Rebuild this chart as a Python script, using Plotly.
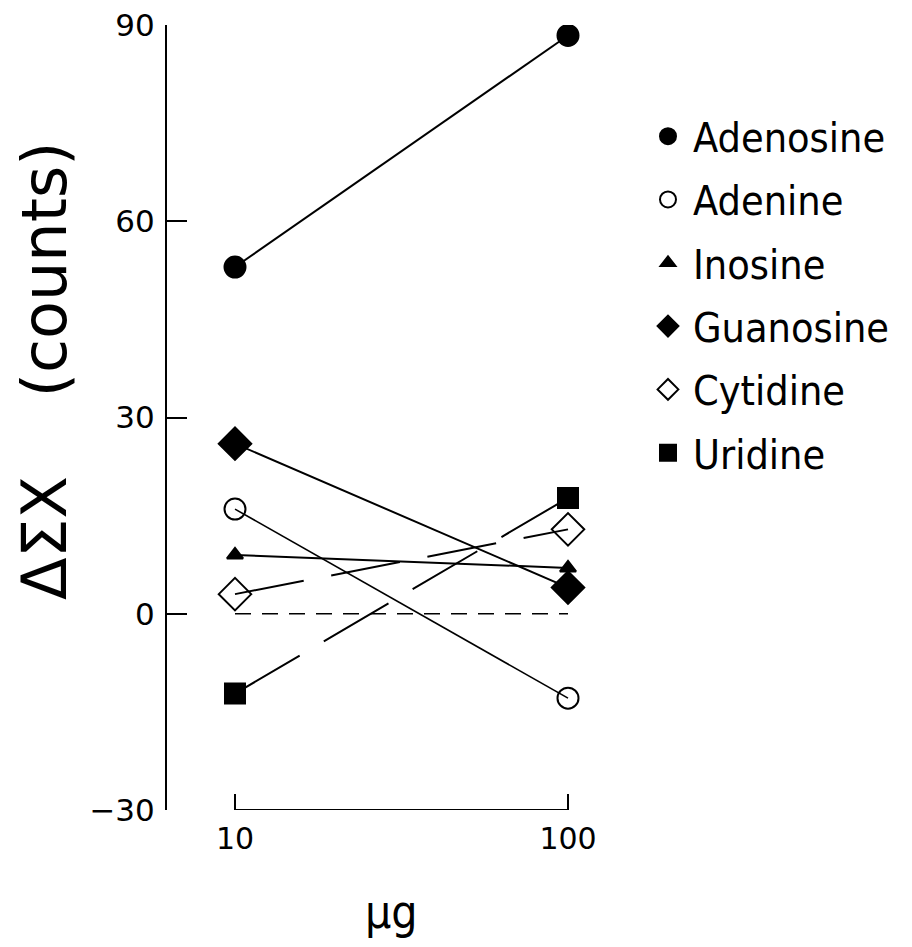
import plotly.graph_objects as go

# ---- data ----
doses = [10, 100]
compounds = ["Adenosine", "Adenine", "Inosine", "Guanosine", "Cytidine", "Uridine"]
adenosine = [53.0, 88.4]
adenine = [16.0, -12.9]
inosine = [9.0, 7.0]
guanosine = [26.0, 4.0]
cytidine = [3.0, 12.9]
uridine = [-12.2, 17.7]
baseline = [0, 0]
y_ticks = [-30, 0, 30, 60, 90]

values = [adenosine, adenine, inosine, guanosine, cytidine, uridine]
symbols = ["circle", "circle-open", "triangle-up", "diamond", "diamond-open", "square"]
msizes = [21, 21, 14, 25, 25, 20]
leg_sizes = [19, 18, 13, 22, 20, 17]
lwidths = [2, 1.6, 2, 2, 2, 2]
dashes = ["solid", "solid", "solid", "solid", "70px,28px", "75px,28px"]

fig = go.Figure()

# dashed zero line
fig.add_trace(go.Scatter(x=doses, y=baseline, mode="lines",
                         line=dict(color="black", width=1.6, dash="16px,11px"),
                         showlegend=False, hoverinfo="skip"))

for name, vals, sym, ms, lw, ds in zip(compounds, values, symbols, msizes, lwidths, dashes):
    fig.add_trace(go.Scatter(
        x=doses, y=vals, mode="lines+markers", name=name, showlegend=False,
        line=dict(color="black", width=lw, dash=ds),
        marker=dict(symbol=sym, size=ms, color="black",
                    line=dict(color="black", width=2)),
    ))

# legend entries (markers only)
for name, sym, ms in zip(compounds, symbols, leg_sizes):
    fig.add_trace(go.Scatter(
        x=[None], y=[None], mode="markers", name=name, legendgroup=name,
        marker=dict(symbol=sym, size=ms, color="black", line=dict(color="black", width=2)),
    ))

# x-axis bracket from 10 to 100 at y=-30
fig.add_shape(type="line", xref="x", yref="y", x0=doses[0], x1=doses[-1],
              y0=y_ticks[0], y1=y_ticks[0], line=dict(color="black", width=2))

font_main = "DejaVu Sans"
font_cond = "DejaVu Sans Condensed, DejaVu Sans"
fig.update_layout(
    width=904, height=931,
    paper_bgcolor="white", plot_bgcolor="white",
    margin=dict(l=159, r=312, t=17, b=129),
    xaxis=dict(type="log", range=[0.7958, 2.0961], tickvals=doses,
               ticktext=[str(d) for d in doses], automargin=False,
               ticks="inside", ticklen=16, tickwidth=2, tickcolor="black",
               showline=False, showgrid=False, zeroline=False, ticklabelstandoff=8,
               ticklabeloverflow="allow",
               tickfont=dict(family=font_main, size=30, color="black")),
    yaxis=dict(range=[-30, 90], tickvals=y_ticks, automargin=False,
               ticks="inside", ticklen=20, tickwidth=2, tickcolor="black",
               showline=True, linecolor="black", linewidth=2,
               showgrid=False, zeroline=False, ticklabelstandoff=4,
               ticklabeloverflow="allow",
               tickfont=dict(family=font_main, size=31, color="black")),
    legend=dict(x=1.0993, xanchor="left", y=0.9006, yanchor="top", itemwidth=40,
                font=dict(family=font_cond, size=41, color="black"),
                tracegroupgap=7, bgcolor="rgba(0,0,0,0)"),
    annotations=[
        dict(text="ΔΣX    (counts)", x=-0.284, y=0.5592, xref="paper", yref="paper",
             xanchor="center", yanchor="middle", textangle=-90, showarrow=False,
             font=dict(family=font_main, size=62, color="black")),
        dict(text="µg", x=0.519, y=-0.13, xref="paper", yref="paper",
             xanchor="center", yanchor="middle", showarrow=False,
             font=dict(family=font_cond, size=46, color="black")),
    ],
)

fig.write_html("out.html")
